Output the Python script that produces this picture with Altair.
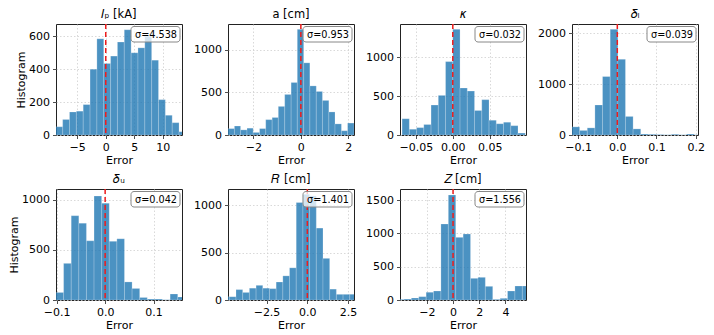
import altair as alt
import pandas as pd

FONT = "DejaVu Sans"
W, H = 126, 111

titles = ["𝐼ₚ [kA]", "a [cm]", "𝜅", "𝛿ₗ", "𝛿ᵤ", "𝑅 [cm]", "𝑍 [cm]"]
sigmas = ["σ=4.538", "σ=0.953", "σ=0.032", "σ=0.039", "σ=0.042", "σ=1.401", "σ=1.556"]

ip_edges = [-8.75, -7.55, -6.35, -5.15, -3.95, -2.75, -1.55, -0.35, 0.85, 2.05, 3.25,
            4.45, 5.65, 6.85, 8.05, 9.25, 10.45, 11.65, 12.85, 14.05]
ip_counts = [50, 95, 140, 145, 185, 400, 585, 435, 480, 565, 640, 500, 530, 600, 455,
             215, 120, 75, 20]

a_edges = [-3.07, -2.80, -2.54, -2.27, -2.01, -1.74, -1.48, -1.21, -0.95, -0.68, -0.41,
           -0.15, 0.12, 0.38, 0.65, 0.91, 1.18, 1.44, 1.71, 1.97, 2.24]
a_counts = [75, 105, 60, 80, 30, 75, 180, 205, 335, 475, 615, 1238, 845, 575, 510, 405,
            270, 130, 50, 140]

k_edges = [-0.0686, -0.0588, -0.0490, -0.0392, -0.0294, -0.0196, -0.0098, 0.0, 0.0098,
           0.0196, 0.0294, 0.0392, 0.0490, 0.0588, 0.0686, 0.0784, 0.0882, 0.0980]
k_counts = [210, 75, 95, 135, 385, 510, 945, 1360, 605, 565, 315, 455, 190, 145, 165,
            120, 25]

dl_edges = [-0.1157, -0.0962, -0.0767, -0.0572, -0.0377, -0.0182, 0.0013, 0.0208, 0.0403,
            0.0598, 0.0793, 0.0988, 0.1183, 0.1378, 0.1573, 0.1768, 0.1963, 0.2158]
dl_counts = [160, 90, 140, 590, 1150, 2080, 1490, 365, 120, 20, 15, 10, 5, 15, 5, 20, 5]

du_edges = [-0.1014, -0.0857, -0.0700, -0.0543, -0.0386, -0.0229, -0.0072, 0.0085, 0.0242,
            0.0399, 0.0556, 0.0713, 0.0870, 0.1027, 0.1184, 0.1341, 0.1498, 0.1655]
du_counts = [75, 365, 840, 765, 590, 1036, 965, 585, 610, 180, 115, 25, 10, 10, 3, 60, 30]

r_edges = [-5.19, -4.78, -4.37, -3.96, -3.55, -3.14, -2.73, -2.32, -1.91, -1.50, -1.09,
           -0.68, -0.27, 0.14, 0.55, 0.96, 1.37, 1.78, 2.19, 2.60, 3.01]
r_counts = [35, 35, 110, 80, 125, 155, 125, 120, 190, 255, 340, 1030, 1117, 1100, 760,
            440, 115, 60, 60, 60]

z_edges = [-4.315, -3.75, -3.185, -2.62, -2.055, -1.49, -0.925, -0.36, 0.205, 0.77, 1.335,
           1.9, 2.465, 3.03, 3.595, 4.16, 4.725, 5.29, 5.855]
z_counts = [10, 15, 30, 50, 115, 135, 1140, 1575, 940, 990, 325, 340, 205, 10, 25, 135,
            210, 210]

x_domains = [[-8.72, 13.37], [-3.07, 2.24], [-0.0714, 0.099], [-0.1157, 0.206],
             [-0.1014, 0.1586], [-4.86, 2.86], [-4.05, 5.57]]
y_domains = [[0, 675], [0, 1300], [0, 1429], [0, 2184], [0, 1106], [0, 1173], [0, 1665]]
x_ticks = [[-5, 0, 5, 10], [-2, 0, 2], [-0.05, 0.0, 0.05], [-0.1, 0.0, 0.1, 0.2],
           [-0.1, 0.0, 0.1], [-2.5, 0.0, 2.5], [-2, 0, 2, 4]]
x_formats = ["d", "d", ".2f", ".1f", ".1f", ".1f", "d"]
y_ticks = [[0, 200, 400, 600], [0, 500, 1000], [0, 500, 1000], [0, 1000, 2000],
           [0, 500, 1000], [0, 500, 1000], [0, 500, 1000, 1500]]

all_edges = [ip_edges, a_edges, k_edges, dl_edges, du_edges, r_edges, z_edges]
all_counts = [ip_counts, a_counts, k_counts, dl_counts, du_counts, r_counts, z_counts]
first_col = [True, False, False, False, True, False, False]


def panel(i):
    edges = all_edges[i]
    df = pd.DataFrame({"lo": edges[:-1], "hi": edges[1:], "count": all_counts[i]})
    yaxis = alt.Axis(values=y_ticks[i], format="d", title="Histogram") if first_col[i] \
        else alt.Axis(values=y_ticks[i], format="d", title=None)
    bars = alt.Chart(df).mark_rect(
        clip=True, color="#1f77b4", opacity=0.8, stroke="#ffffff", strokeOpacity=0.35,
        strokeWidth=0.6
    ).encode(
        x=alt.X("lo:Q", scale=alt.Scale(domain=x_domains[i], nice=False, zero=False),
                axis=alt.Axis(values=x_ticks[i], format=x_formats[i], title="Error")),
        x2="hi:Q",
        y=alt.Y("count:Q", scale=alt.Scale(domain=y_domains[i], nice=False), axis=yaxis),
        y2=alt.datum(0),
    )
    rule = alt.Chart(pd.DataFrame({"z": [0]})).mark_rule(
        color="#ee1c1c", strokeDash=[5, 3], strokeWidth=1.5
    ).encode(x=alt.datum(0))
    sdf = pd.DataFrame({"s": [sigmas[i]]})
    box = alt.Chart(sdf).mark_rect(
        fill="white", fillOpacity=0.75, stroke="#888888", strokeWidth=1, cornerRadius=3
    ).encode(x=alt.value(W - 51), x2=alt.value(W - 2), y=alt.value(2.5), y2=alt.value(18))
    txt = alt.Chart(sdf).mark_text(
        align="right", baseline="middle", fontSize=9.7, font=FONT, color="black"
    ).encode(x=alt.value(W - 5), y=alt.value(10.5), text="s:N")
    return alt.layer(bars, rule, box, txt).properties(
        width=W, height=H,
        title=alt.TitleParams(titles[i], fontSize=11.5, fontWeight="normal", font=FONT,
                              offset=3, color="black"),
    )


chart = alt.concat(*[panel(i) for i in range(7)], columns=4,
                   spacing={"row": 54, "column": 46}, bounds="flush").properties(
    padding={"left": 0, "top": 0, "right": 0, "bottom": 0}
).configure_view(stroke="#222222", strokeWidth=1).configure_axis(
    grid=True, gridColor="#cfcfcf", gridDash=[1.5, 2], gridWidth=0.8, domain=False,
    tickColor="#222222", tickSize=3.5, tickWidth=0.8, labelFontSize=11, labelFont=FONT,
    labelColor="black", titleFontSize=11, titleFont=FONT, titleFontWeight="normal",
    titleColor="black", labelFlush=False, labelPadding=3, titlePadding=2
)

chart.save("out.html", embed_options={"renderer": "svg", "actions": False})
